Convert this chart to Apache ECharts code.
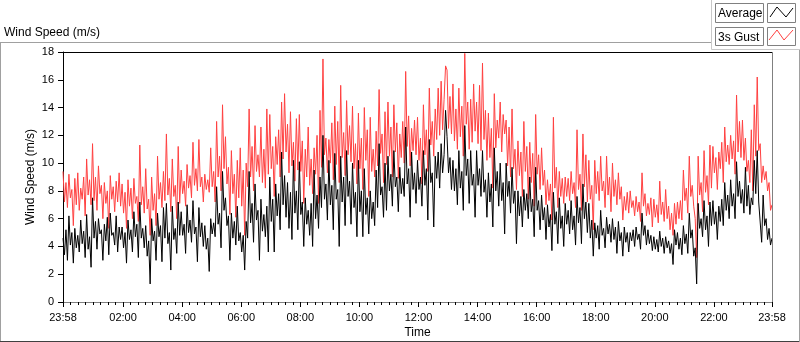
<!DOCTYPE html>
<html>
<head>
<meta charset="utf-8">
<script src="https://cdn.jsdelivr.net/npm/echarts@6/dist/echarts.min.js"></script>
<style>
  html, body { margin: 0; padding: 0; background: #fff; }
  #main { width: 800px; height: 342px; }
</style>
</head>
<body>
<div id="main"></div>
<script>
// one sample every 3 minutes, starting 23:58 (one row = one hour)
const stepMin = 3;

const gust = [
  9.4, 7.2, 8.6, 6.8, 9.2, 7.5, 8.1, 5.5, 8.9, 7.0, 9.3, 6.6, 8.2, 7.4, 9.0, 6.2, 10.3, 7.7, 8.8, 7.0,
  11.4, 7.3, 9.0, 6.6, 9.8, 7.8, 8.4, 6.0, 8.6, 7.1, 8.0, 5.3, 9.1, 7.4, 8.3, 6.5, 8.7, 7.2, 9.3, 6.9,
  8.5, 6.4, 7.9, 5.3, 8.8, 6.9, 8.2, 6.0, 8.9, 7.1, 7.6, 5.8, 11.3, 7.0, 8.3, 6.4, 9.6, 6.7, 7.4, 4.8,
  9.0, 6.6, 7.8, 5.5, 10.5, 7.4, 8.6, 6.8, 9.4, 7.3, 12.1, 7.7, 8.9, 6.5, 10.3, 7.6, 8.4, 6.0, 11.2, 7.1,
  9.5, 7.8, 8.7, 6.9, 9.9, 8.2, 9.1, 7.5, 11.5, 8.4, 9.6, 8.0, 11.7, 8.3, 9.0, 7.2, 9.2, 8.1, 8.8, 7.9,
  11.1, 8.3, 9.4, 7.2, 13.0, 9.0, 10.5, 8.0, 14.2, 9.6, 11.9, 8.5, 9.7, 6.3, 10.9, 7.8, 9.2, 6.1, 10.2, 7.5,
  11.1, 6.9, 9.5, 4.8, 10.0, 8.3, 13.9, 9.0, 11.2, 8.0, 12.7, 9.4, 10.6, 9.0, 12.6, 8.6, 11.0, 8.2, 13.9, 9.2,
  13.5, 9.6, 11.2, 7.6, 11.9, 9.9, 12.4, 9.0, 14.4, 10.3, 15.0, 10.8, 12.8, 9.3, 13.7, 9.8, 11.5, 8.7, 13.2, 9.5,
  13.5, 9.4, 11.6, 7.1, 11.0, 9.0, 12.6, 8.4, 10.3, 7.8, 11.1, 9.2, 12.0, 7.1, 13.8, 9.7, 17.5, 10.6, 11.8, 9.3,
  11.7, 10.0, 12.9, 8.8, 14.1, 9.9, 13.0, 8.6, 15.6, 10.4, 12.2, 9.1, 14.5, 10.6, 12.7, 10.1, 14.1, 9.6, 11.4, 8.5,
  13.6, 9.6, 11.8, 8.1, 14.0, 10.2, 12.4, 7.6, 13.3, 9.4, 11.0, 9.0, 12.3, 9.8, 15.3, 10.7, 12.1, 8.6, 13.7, 9.9,
  14.4, 10.5, 12.6, 9.0, 14.2, 10.8, 12.9, 8.9, 12.1, 10.4, 13.0, 10.0, 16.6, 11.2, 13.4, 9.8, 12.5, 10.9, 13.1, 10.6,
  13.3, 10.2, 11.8, 8.5, 14.2, 10.6, 12.4, 9.4, 15.4, 11.3, 13.0, 10.5, 13.9, 11.7, 15.4, 12.0, 15.9, 12.4, 14.6, 17.0,
  16.7, 12.5, 14.8, 12.1, 15.7, 11.6, 13.9, 11.0, 15.4, 11.9, 14.1, 10.5, 17.9, 12.8, 14.4, 11.0, 14.6, 11.5, 15.7, 12.3,
  14.4, 11.4, 15.6, 10.9, 17.2, 11.7, 13.8, 10.2, 13.6, 10.4, 12.5, 8.2, 15.0, 11.1, 13.1, 11.8, 14.4, 10.8, 13.5, 12.1,
  13.1, 9.8, 12.6, 9.0, 13.9, 9.6, 11.0, 8.1, 11.6, 9.1, 10.8, 7.6, 13.0, 9.4, 11.2, 7.4, 11.5, 8.6, 10.7, 6.9,
  13.5, 9.2, 10.6, 8.1, 11.1, 8.4, 9.5, 7.0, 8.8, 7.3, 8.5, 5.9, 13.3, 8.2, 9.7, 6.8, 9.4, 7.6, 8.9, 7.1,
  9.0, 7.6, 8.9, 7.3, 9.4, 7.8, 8.6, 6.8, 12.4, 8.1, 9.2, 6.6, 12.1, 8.3, 10.6, 7.2, 10.2, 7.4, 8.4, 5.2,
  10.2, 7.8, 9.4, 7.3, 10.5, 8.0, 8.7, 6.8, 10.5, 7.7, 9.0, 6.5, 10.0, 7.6, 8.8, 7.0, 9.3, 7.4, 8.3, 5.9,
  7.6, 6.6, 7.9, 6.4, 8.0, 6.8, 7.3, 6.2, 7.6, 6.5, 7.2, 5.8, 9.3, 6.9, 7.8, 6.2, 7.1, 6.3, 7.5, 5.4,
  7.4, 6.1, 7.0, 5.7, 8.7, 6.3, 7.2, 5.8, 8.1, 6.0, 6.9, 5.2, 6.4, 4.8, 7.1, 5.6, 7.2, 6.0, 7.3, 5.9,
  9.5, 7.3, 8.2, 6.4, 10.5, 7.6, 8.4, 6.9, 6.0, 3.2, 10.5, 7.7, 8.6, 6.5, 10.9, 7.9, 9.1, 7.0, 11.3, 8.2,
  11.2, 9.3, 10.4, 8.1, 10.8, 9.6, 11.5, 8.6, 12.6, 10.1, 11.3, 9.9, 12.0, 10.3, 11.6, 9.2, 14.9, 10.8, 13.0, 10.4,
  13.1, 10.2, 11.8, 9.4, 10.2, 8.6, 12.4, 8.0, 14.2, 10.5, 16.2, 10.9, 11.4, 8.6, 9.8, 8.8, 9.4, 8.0, 8.6, 6.6,
  7.0
];

const average = [
  4.6, 3.4, 5.2, 3.0, 6.2, 4.1, 5.0, 2.8, 5.3, 3.9, 4.8, 3.6, 5.9, 4.2, 5.1, 3.2, 6.3, 3.8, 4.7, 2.5,
  7.5, 4.6, 5.8, 3.8, 6.0, 4.9, 5.2, 3.0, 5.6, 4.4, 6.1, 3.4, 6.4, 4.8, 5.0, 4.1, 6.2, 3.6, 5.4, 4.5,
  5.4, 3.9, 5.0, 2.8, 5.9, 4.5, 5.2, 3.6, 6.5, 4.7, 5.6, 3.2, 7.2, 4.6, 5.3, 3.9, 5.5, 3.3, 4.4, 1.3,
  6.0, 4.4, 5.1, 3.0, 6.4, 4.7, 5.5, 2.9, 6.8, 4.6, 7.1, 4.2, 5.0, 2.3, 6.9, 4.5, 5.3, 3.5, 7.2, 4.8,
  6.5, 4.8, 5.6, 3.5, 7.0, 5.0, 5.9, 4.3, 7.3, 4.9, 5.4, 2.9, 6.8, 4.7, 5.7, 4.0, 5.5, 3.8, 4.6, 2.2,
  6.0, 4.9, 5.7, 4.7, 8.3, 5.6, 6.4, 3.9, 9.4, 6.6, 7.5, 5.5, 6.2, 3.0, 6.4, 4.6, 5.8, 4.1, 6.9, 4.4,
  5.0, 3.6, 4.8, 2.3, 5.8, 4.6, 9.4, 5.7, 7.1, 4.3, 8.5, 5.9, 6.6, 3.0, 7.4, 5.1, 6.3, 4.7, 6.9, 3.6,
  9.0, 5.8, 7.4, 3.6, 8.5, 6.2, 7.8, 5.2, 10.8, 7.0, 9.1, 6.1, 8.6, 5.3, 7.9, 4.5, 10.2, 6.4, 8.0, 5.2,
  10.1, 6.3, 7.2, 4.0, 7.5, 5.6, 6.6, 4.8, 7.1, 4.0, 9.5, 6.0, 7.7, 5.3, 9.0, 6.8, 12.0, 7.4, 8.5, 5.9,
  10.2, 7.0, 8.4, 5.2, 10.7, 7.4, 8.1, 4.0, 10.5, 7.2, 9.0, 5.5, 10.9, 7.6, 8.7, 5.6, 10.0, 6.8, 7.9, 4.7,
  10.2, 6.5, 8.0, 4.7, 9.6, 6.3, 7.5, 4.9, 8.0, 6.0, 7.2, 5.5, 9.5, 6.8, 11.4, 7.7, 8.3, 6.1, 10.0, 6.6,
  10.5, 8.0, 9.2, 6.9, 10.9, 8.3, 9.0, 6.5, 9.7, 7.8, 8.9, 7.6, 12.6, 8.5, 9.6, 6.1, 10.8, 8.1, 9.3, 7.1,
  10.2, 8.1, 9.0, 6.9, 10.9, 8.4, 9.6, 5.9, 11.7, 8.6, 9.3, 5.4, 10.5, 8.9, 10.8, 8.2, 11.4, 9.3, 10.6, 13.8,
  11.9, 9.3, 10.4, 8.1, 10.2, 8.0, 9.6, 7.0, 10.9, 8.2, 9.4, 6.6, 12.7, 9.1, 10.3, 7.1, 10.9, 8.4, 9.2, 6.1,
  10.9, 8.4, 9.6, 7.6, 10.9, 7.9, 8.8, 6.1, 9.3, 7.2, 8.5, 5.4, 11.1, 8.0, 9.4, 6.9, 10.0, 7.3, 8.6, 4.9,
  10.0, 7.6, 8.7, 6.4, 9.7, 7.1, 8.0, 4.2, 8.0, 6.2, 7.6, 5.4, 8.1, 6.6, 7.8, 6.0, 9.0, 6.5, 7.4, 4.7,
  9.7, 6.6, 7.3, 5.2, 7.7, 5.9, 6.8, 4.5, 7.0, 5.4, 6.3, 3.7, 7.9, 5.6, 6.5, 4.2, 7.5, 5.3, 6.2, 4.0,
  7.1, 5.6, 6.6, 4.9, 7.3, 5.2, 6.2, 4.1, 7.6, 5.7, 6.8, 4.2, 8.5, 6.0, 7.2, 5.0, 7.1, 4.6, 5.9, 3.3,
  5.7, 4.6, 5.5, 3.8, 6.6, 4.8, 5.3, 3.9, 6.1, 4.9, 5.6, 4.3, 6.0, 4.5, 5.4, 3.5, 5.8, 4.4, 5.0, 3.3,
  5.4, 4.3, 5.0, 3.6, 5.0, 4.4, 5.2, 4.0, 5.4, 4.5, 4.9, 3.8, 6.4, 4.8, 5.5, 4.1, 5.2, 4.2, 4.8, 3.7,
  4.7, 3.8, 4.5, 3.6, 5.1, 4.0, 4.6, 3.5, 4.7, 3.9, 4.4, 3.5, 4.2, 2.7, 5.2, 4.1, 5.0, 3.8, 4.6, 3.4,
  5.5, 4.2, 4.9, 3.5, 6.4, 4.6, 5.2, 3.3, 3.9, 1.3, 7.1, 5.3, 6.0, 4.7, 7.3, 5.2, 6.2, 4.0, 7.2, 5.5,
  7.3, 5.6, 6.5, 4.5, 6.9, 5.8, 7.4, 5.5, 8.6, 6.6, 7.7, 6.0, 8.8, 6.9, 7.8, 6.0, 10.1, 7.6, 8.7, 7.1,
  8.1, 6.4, 9.7, 6.9, 8.4, 6.3, 7.5, 7.0, 10.2, 7.8, 10.9, 7.2, 7.3, 4.3, 7.7, 5.5, 6.0, 4.5, 5.3, 4.1,
  4.6
];

const timeLabels = ['23:58', '02:00', '04:00', '06:00', '08:00', '10:00', '12:00',
  '14:00', '16:00', '18:00', '20:00', '22:00', '23:58'];

// minutes since 23:58 for each label
const labelPos = timeLabels.map(function (t, i) {
  if (i === 0) return 0;
  if (i === timeLabels.length - 1) return 1440;
  const p = t.split(':');
  return +p[0] * 60 + +p[1] + 2;
});
const labelAt = {};
labelPos.forEach(function (p, i) { labelAt[p] = timeLabels[i]; });

// 8 minor divisions between each pair of labels
const minorPos = [];
for (let i = 0; i < labelPos.length - 1; i++) {
  for (let k = 1; k < 8; k++) {
    minorPos.push(labelPos[i] + (labelPos[i + 1] - labelPos[i]) * k / 8);
  }
}

const gustData = gust.map(function (v, i) { return [i * stepMin, v]; });
const avgData = average.map(function (v, i) { return [i * stepMin, v]; });

const font = 'Liberation Sans';

const option = {
  animation: false,
  textStyle: { fontFamily: font },
  grid: { left: 63, right: 28, top: 52, bottom: 40, containLabel: false, outerBoundsMode: 'none' },
  xAxis: [
    {
      type: 'value',
      min: 0,
      max: 1440,
      name: 'Time',
      nameLocation: 'middle',
      nameGap: 25,
      nameMoveOverlap: false,
      nameTextStyle: { color: '#000', fontSize: 12, fontFamily: font },
      splitLine: { show: false },
      axisLine: { show: true, lineStyle: { color: '#808080', width: 1 } },
      axisTick: {
        show: true,
        length: 5,
        customValues: labelPos,
        lineStyle: { color: '#000', width: 1 }
      },
      axisLabel: {
        customValues: labelPos,
        color: '#000',
        fontSize: 11,
        fontFamily: font,
        margin: 10,
        formatter: function (v) { return labelAt[v] || ''; }
      }
    },
    {
      type: 'value',
      min: 0,
      max: 1440,
      position: 'bottom',
      splitLine: { show: false },
      axisLine: { show: false },
      axisLabel: { show: false },
      axisTick: {
        show: true,
        length: 3,
        customValues: minorPos,
        lineStyle: { color: '#000', width: 1 }
      }
    }
  ],
  yAxis: {
    type: 'value',
    min: 0,
    max: 18,
    interval: 2,
    name: 'Wind Speed (m/s)',
    nameLocation: 'middle',
    nameRotate: 90,
    nameGap: 26,
    nameMoveOverlap: false,
    nameTextStyle: { color: '#000', fontSize: 12, fontFamily: font },
    splitLine: { show: false },
    axisLine: { show: true, lineStyle: { color: '#000', width: 1 } },
    axisTick: { show: true, length: 5, lineStyle: { color: '#000' } },
    axisLabel: { color: '#000', fontSize: 11, fontFamily: font, margin: 9 }
  },
  graphic: [
    // outer frame
    { type: 'line', shape: { x1: 0, y1: 42.5, x2: 712, y2: 42.5 }, style: { stroke: '#a0a0a0' } },
    { type: 'line', shape: { x1: 0.5, y1: 42, x2: 0.5, y2: 342 }, style: { stroke: '#a0a0a0' } },
    { type: 'line', shape: { x1: 0, y1: 341.5, x2: 800, y2: 341.5 }, style: { stroke: '#404040' } },
    { type: 'line', shape: { x1: 799.5, y1: 0, x2: 799.5, y2: 342 }, style: { stroke: '#a0a0a0' } },
    // legend panel
    { type: 'rect', shape: { x: 711.5, y: -1, width: 90, height: 50.5 }, style: { fill: '#fff', stroke: '#c8c8c8' }, z: 10 },
    // plot frame top / right
    { type: 'line', shape: { x1: 63, y1: 52.5, x2: 773, y2: 52.5 }, style: { stroke: '#000' }, z: 10 },
    { type: 'line', shape: { x1: 772.5, y1: 52, x2: 772.5, y2: 302 }, style: { stroke: '#808080' }, z: 10 },
    // legend: Average
    { type: 'rect', shape: { x: 715.5, y: 3.5, width: 48, height: 19 }, style: { fill: '#fff', stroke: '#808080' }, z: 11 },
    { type: 'text', x: 718, y: 14, style: { text: 'Average', fill: '#000', font: '12px "Liberation Sans"', verticalAlign: 'middle' }, z: 12 },
    { type: 'rect', shape: { x: 767.5, y: 3.5, width: 28, height: 19 }, style: { fill: '#fff', stroke: '#808080' }, z: 11 },
    { type: 'polyline', shape: { points: [[770, 17], [777, 7], [786, 17], [793, 8]] }, style: { stroke: '#000', lineWidth: 1, fill: null }, z: 12 },
    // legend: 3s Gust
    { type: 'rect', shape: { x: 715.5, y: 27.5, width: 48, height: 18 }, style: { fill: '#fff', stroke: '#808080' }, z: 11 },
    { type: 'text', x: 718, y: 37.5, style: { text: '3s Gust', fill: '#000', font: '12px "Liberation Sans"', verticalAlign: 'middle' }, z: 12 },
    { type: 'rect', shape: { x: 767.5, y: 27.5, width: 28, height: 18 }, style: { fill: '#fff', stroke: '#808080' }, z: 11 },
    { type: 'polyline', shape: { points: [[769, 40], [777, 30], [784, 40], [793, 30]] }, style: { stroke: '#ff4040', lineWidth: 1, fill: null }, z: 12 },
    // chart caption
    { type: 'text', x: 4, y: 32.5, style: { text: 'Wind Speed (m/s)', fill: '#000', font: '12px "Liberation Sans"', verticalAlign: 'middle' }, z: 12 }
  ],
  series: [
    {
      name: '3s Gust',
      type: 'line',
      xAxisIndex: 0,
      data: gustData,
      showSymbol: false,
      lineStyle: { color: '#ff4040', width: 1 },
      itemStyle: { color: '#ff4040' }
    },
    {
      name: 'Average',
      type: 'line',
      xAxisIndex: 0,
      data: avgData,
      showSymbol: false,
      lineStyle: { color: '#000', width: 1 },
      itemStyle: { color: '#000' }
    }
  ]
};

const myChart = echarts.init(document.getElementById('main'));
myChart.setOption(option);
</script>
</body>
</html>
